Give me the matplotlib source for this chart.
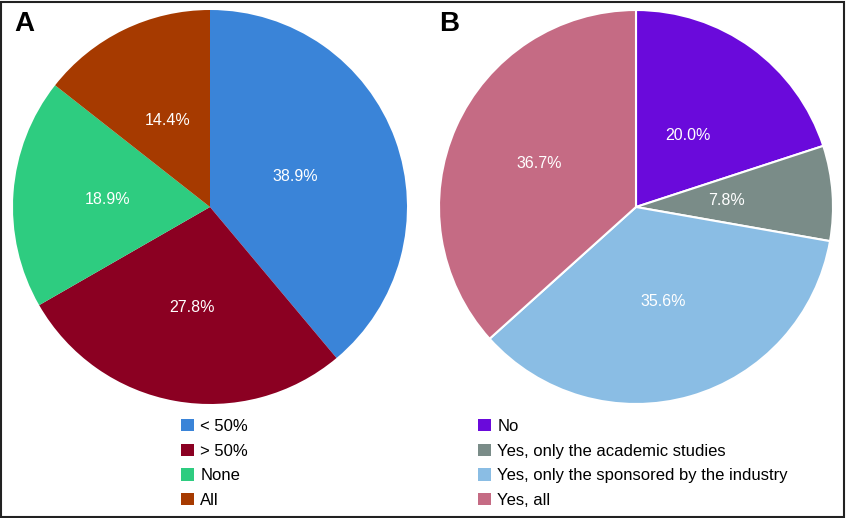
import numpy as np
import matplotlib.pyplot as plt
from matplotlib.patches import Patch

plt.rcParams['font.family'] = ['Liberation Sans', 'DejaVu Sans']

# panel A
labels_a = ['< 50%', '> 50%', 'None', 'All']
values_a = [38.9, 27.8, 18.9, 14.4]
colors_a = ['#3a84d8', '#8b0022', '#2ecc80', '#a63a00']

# panel B
labels_b = ['No', 'Yes, only the academic studies',
            'Yes, only the sponsored by the industry', 'Yes, all']
values_b = [20.0, 7.8, 35.6, 36.7]
colors_b = ['#6a0adb', '#7a8c88', '#8abde4', '#c56b84']

# label distance from centre (fraction of radius), per wedge
pct_dist_a = [0.46, 0.52, 0.52, 0.49]
pct_dist_b = [0.45, 0.46, 0.50, 0.54]

W, H = 846, 518
fig = plt.figure(figsize=(W / 100, H / 100), dpi=100)

# outer frame
fig.patches.append(plt.Rectangle((0.001, 0.002), 0.997, 0.995, transform=fig.transFigure,
                                 fill=False, edgecolor='#222222', linewidth=1.5))


def draw_pie(cx, cy, r, values, colors, labels, dists, letter, edge, leg_x, letter_x):
    ax = fig.add_axes([(cx - r) / W, (H - cy - r) / H, 2 * r / W, 2 * r / H])
    wedges, texts = ax.pie(
        values, colors=colors, startangle=90, counterclock=False,
        wedgeprops=dict(edgecolor='white' if edge else 'none', linewidth=1.5 if edge else 0))
    for w, v, d in zip(wedges, values, dists):
        mid = np.deg2rad((w.theta1 + w.theta2) / 2)
        ax.text(d * np.cos(mid), d * np.sin(mid), f'{v:.1f}%', color='white',
                fontsize=11.5, ha='center', va='center')
    ax.set_xlim(-1, 1)
    ax.set_ylim(-1, 1)
    ax.set_aspect('auto')
    handles = [Patch(facecolor=c, edgecolor='none') for c in colors]
    fig.legend(handles, labels, loc='upper left',
               bbox_to_anchor=(leg_x / W, (H - 414) / H),
               frameon=False, fontsize=12, handlelength=0.75, handleheight=0.75,
               handletextpad=0.4, labelspacing=0.58, borderaxespad=0, borderpad=0.3)
    fig.text(letter_x / W, (H - 24) / H, letter, fontsize=20, fontweight='bold',
             ha='center', va='center')


draw_pie(210, 207, 197, values_a, colors_a, labels_a, pct_dist_a, 'A', False, 176, 24)
draw_pie(636, 207, 197, values_b, colors_b, labels_b, pct_dist_b, 'B', True, 473, 449)

fig.savefig('out.png', dpi=100)
